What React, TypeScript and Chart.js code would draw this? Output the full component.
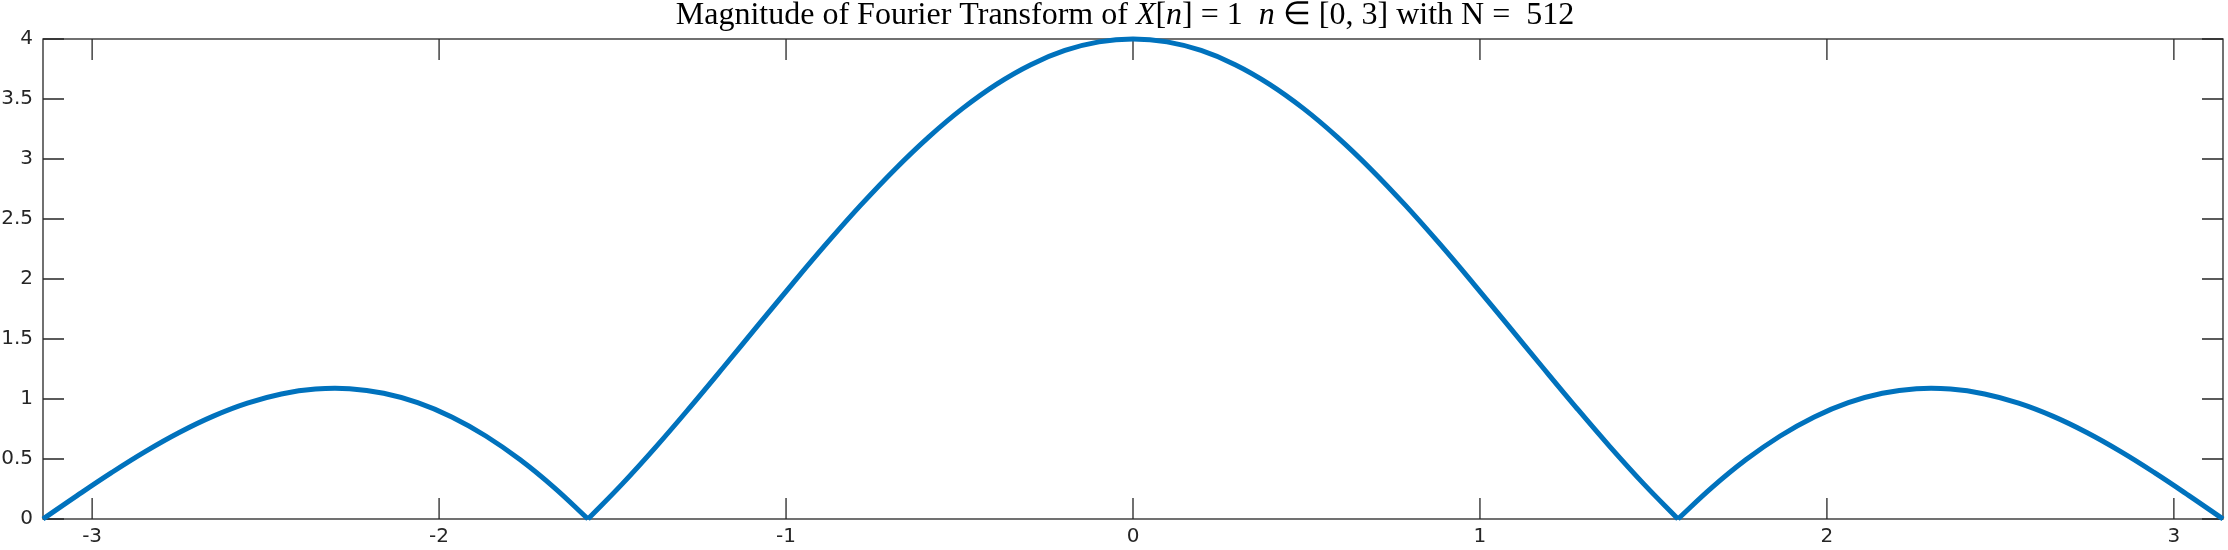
import { Chart, registerables } from "chart.js";
import React, { useEffect, useRef } from "react";

Chart.register(...registerables);

// frequency samples (rad), step pi/32 from -pi to pi
const omega = [
  -3.1416, -3.0434, -2.9452, -2.8471, -2.7489, -2.6507, -2.5525, -2.4544,
  -2.3562, -2.258, -2.1598, -2.0617, -1.9635, -1.8653, -1.7671, -1.669,
  -1.5708, -1.4726, -1.3744, -1.2763, -1.1781, -1.0799, -0.9817, -0.8836,
  -0.7854, -0.6872, -0.589, -0.4909, -0.3927, -0.2945, -0.1963, -0.0982, 0,
  0.0982, 0.1963, 0.2945, 0.3927, 0.4909, 0.589, 0.6872, 0.7854, 0.8836,
  0.9817, 1.0799, 1.1781, 1.2763, 1.3744, 1.4726, 1.5708, 1.669, 1.7671,
  1.8653, 1.9635, 2.0617, 2.1598, 2.258, 2.3562, 2.4544, 2.5525, 2.6507,
  2.7489, 2.8471, 2.9452, 3.0434, 3.1416,
];

// |X(e^jw)|
const magnitude = [
  0, 0.1953, 0.3845, 0.5617, 0.721, 0.8572, 0.9655, 1.0417, 1.0824, 1.085,
  1.0476, 0.9694, 0.8504, 0.6917, 0.4951, 0.2633, 0, 0.2905, 0.6032, 0.9326,
  1.2728, 1.6173, 1.9599, 2.2939, 2.6131, 2.9113, 3.1827, 3.422, 3.6245,
  3.7863, 3.9043, 3.9759, 4, 3.9759, 3.9043, 3.7863, 3.6245, 3.422, 3.1827,
  2.9113, 2.6131, 2.2939, 1.9599, 1.6173, 1.2728, 0.9326, 0.6032, 0.2905, 0,
  0.2633, 0.4951, 0.6917, 0.8504, 0.9694, 1.0476, 1.085, 1.0824, 1.0417,
  0.9655, 0.8572, 0.721, 0.5617, 0.3845, 0.1953, 0,
];

// sample indices where the magnitude touches zero (lobe boundaries)
const lobeEdges = [0, 16, 48, 64];

const xTicks = [-3, -2, -1, 0, 1, 2, 3];
const yTicks = [0, 0.5, 1, 1.5, 2, 2.5, 3, 3.5, 4];

const titleParts = [
  { text: "Magnitude of Fourier Transform of ", italic: false },
  { text: "X", italic: true },
  { text: "[", italic: false },
  { text: "n", italic: true },
  { text: "] = 1  ", italic: false },
  { text: "n", italic: true },
  { text: " \u2208 [0, 3] with N =  512", italic: false },
];

const AXIS = "#262626";
const BLUE = "#0072BD";
const TICK_LEN = 21;

const boxPlugin = {
  id: "matlabBox",
  beforeDatasetsDraw(chart: any) {
    const { ctx, chartArea } = chart;
    const { left, right, top, bottom } = chartArea;
    const xs = chart.scales.x;
    const ys = chart.scales.y;
    ctx.save();
    ctx.strokeStyle = AXIS;
    ctx.lineWidth = 1.3;
    ctx.strokeRect(left, top, right - left, bottom - top);
    ctx.beginPath();
    xTicks.forEach((v) => {
      const px = xs.getPixelForValue(v);
      ctx.moveTo(px, bottom);
      ctx.lineTo(px, bottom - TICK_LEN);
      ctx.moveTo(px, top);
      ctx.lineTo(px, top + TICK_LEN);
    });
    yTicks.forEach((v) => {
      const py = ys.getPixelForValue(v);
      ctx.moveTo(left, py);
      ctx.lineTo(left + TICK_LEN, py);
      ctx.moveTo(right, py);
      ctx.lineTo(right - TICK_LEN, py);
    });
    ctx.stroke();
    ctx.restore();
  },
  afterDraw(chart: any) {
    // title with italic math symbols, like the LaTeX interpreter
    const { ctx, chartArea } = chart;
    ctx.save();
    ctx.fillStyle = "#000000";
    ctx.textBaseline = "alphabetic";
    const size = 32;
    const fontFor = (it: boolean) =>
      `${it ? "italic " : ""}${size}px "Liberation Serif"`;
    let total = 0;
    titleParts.forEach((p) => {
      ctx.font = fontFor(p.italic);
      total += ctx.measureText(p.text).width;
    });
    let x = (chartArea.left + chartArea.right) / 2 - total / 2 - 8;
    titleParts.forEach((p) => {
      ctx.font = fontFor(p.italic);
      ctx.fillText(p.text, x, 24);
      x += ctx.measureText(p.text).width;
    });
    ctx.restore();
  },
};

const App: React.FC = () => {
  const chartRef = useRef<HTMLCanvasElement | null>(null);
  const chartInstance = useRef<Chart | null>(null);

  useEffect(() => {
    if (chartInstance.current) {
      chartInstance.current.destroy();
    }

    const points = omega.map((w, i) => ({ x: w, y: magnitude[i] }));

    // one dataset per lobe so the zeros stay sharp
    const datasets = lobeEdges.slice(0, -1).map((start, i) => ({
      data: points.slice(start, lobeEdges[i + 1] + 1),
      borderColor: BLUE,
      backgroundColor: BLUE,
      borderWidth: 5,
      pointRadius: 0,
      tension: 0.4,
      clip: 6,
    }));

    const config: any = {
      type: "line",
      data: { datasets },
      options: {
        animation: false,
        responsive: false,
        devicePixelRatio: 1,
        layout: { padding: { top: 39, right: 5, left: 0, bottom: 0 } },
        plugins: {
          legend: { display: false },
          tooltip: { enabled: false },
          title: { display: false },
        },
        scales: {
          x: {
            type: "linear",
            min: -Math.PI,
            max: Math.PI,
            grid: { display: false, drawTicks: false },
            border: { display: false },
            afterFit(scale: any) {
              scale.height = 31;
            },
            afterBuildTicks(scale: any) {
              scale.ticks = xTicks.map((v) => ({ value: v }));
            },
            ticks: {
              padding: 6,
              color: AXIS,
              font: { family: "DejaVu Sans", size: 20 },
              callback: (v: number) => String(v),
            },
          },
          y: {
            type: "linear",
            min: 0,
            max: 4,
            grid: { display: false, drawTicks: false },
            border: { display: false },
            afterFit(scale: any) {
              scale.width = 43;
            },
            afterBuildTicks(scale: any) {
              scale.ticks = yTicks.map((v) => ({ value: v }));
            },
            ticks: {
              padding: 10,
              color: AXIS,
              font: { family: "DejaVu Sans", size: 20 },
              callback: (v: number) => String(v),
            },
          },
        },
      },
      plugins: [boxPlugin],
    };

    if (chartRef.current) {
      chartInstance.current = new Chart(chartRef.current, config);
    }

    return () => {
      if (chartInstance.current) {
        chartInstance.current.destroy();
      }
    };
  }, []);

  return (
    <div
      style={{
        position: "absolute",
        left: 0,
        top: 0,
        width: 2228,
        height: 550,
        background: "#ffffff",
      }}
    >
      <canvas ref={chartRef} width={2228} height={550}></canvas>
    </div>
  );
};

export default App;
